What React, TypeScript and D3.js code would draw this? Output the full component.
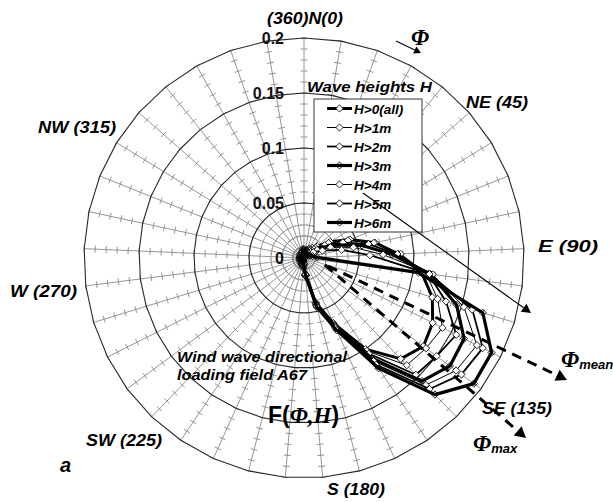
import React from 'react';
import * as d3 from 'd3';

// directions 0..360 every 10 deg (360 repeats N, so 37 spokes)
const directions = [0, 10, 20, 30, 40, 50, 60, 70, 80, 90, 100, 110, 120, 130, 140, 150, 160, 170, 180,
  190, 200, 210, 220, 230, 240, 250, 260, 270, 280, 290, 300, 310, 320, 330, 340, 350, 360];

const seriesNames = ['H>0(all)', 'H>1m', 'H>2m', 'H>3m', 'H>4m', 'H>5m', 'H>6m'];

const hAll = [0.006, 0.006, 0.008, 0.010, 0.012, 0.016, 0.028, 0.045, 0.066, 0.086, 0.108, 0.122, 0.131, 0.135, 0.127, 0.100, 0.065, 0.042, 0.016,
  0.009, 0.007, 0.006, 0.005, 0.005, 0.004, 0.004, 0.004, 0.004, 0.004, 0.004, 0.004, 0.004, 0.005, 0.005, 0.005, 0.006, 0.006];
const h1 = [0.005, 0.005, 0.006, 0.008, 0.010, 0.014, 0.026, 0.043, 0.065, 0.088, 0.112, 0.127, 0.141, 0.138, 0.135, 0.102, 0.066, 0.042, 0.016,
  0.008, 0.006, 0.005, 0.004, 0.004, 0.004, 0.003, 0.003, 0.003, 0.003, 0.003, 0.003, 0.003, 0.004, 0.004, 0.004, 0.005, 0.005];
const h2 = [0.005, 0.004, 0.005, 0.007, 0.009, 0.012, 0.022, 0.038, 0.060, 0.085, 0.114, 0.135, 0.155, 0.150, 0.147, 0.105, 0.067, 0.043, 0.016,
  0.007, 0.005, 0.004, 0.004, 0.003, 0.003, 0.003, 0.003, 0.003, 0.003, 0.003, 0.003, 0.003, 0.003, 0.004, 0.004, 0.004, 0.005];
const h3 = [0.006, 0.004, 0.005, 0.006, 0.008, 0.010, 0.018, 0.032, 0.054, 0.080, 0.116, 0.145, 0.163, 0.165, 0.155, 0.110, 0.068, 0.044, 0.016,
  0.006, 0.005, 0.004, 0.003, 0.003, 0.003, 0.002, 0.002, 0.002, 0.002, 0.002, 0.002, 0.003, 0.003, 0.003, 0.004, 0.004, 0.006];
const h4 = [0.005, 0.004, 0.004, 0.005, 0.006, 0.008, 0.014, 0.026, 0.046, 0.072, 0.118, 0.152, 0.176, 0.172, 0.160, 0.113, 0.069, 0.045, 0.015,
  0.006, 0.004, 0.003, 0.003, 0.002, 0.002, 0.002, 0.002, 0.002, 0.002, 0.002, 0.002, 0.002, 0.003, 0.003, 0.003, 0.004, 0.005];
const h5 = [0.006, 0.004, 0.004, 0.004, 0.005, 0.006, 0.010, 0.018, 0.035, 0.060, 0.115, 0.160, 0.182, 0.178, 0.165, 0.117, 0.070, 0.045, 0.015,
  0.005, 0.004, 0.003, 0.002, 0.002, 0.002, 0.002, 0.002, 0.002, 0.002, 0.002, 0.002, 0.002, 0.002, 0.003, 0.003, 0.004, 0.006];
const h6 = [0.008, 0.005, 0.004, 0.004, 0.004, 0.004, 0.005, 0.006, 0.008, 0.012, 0.105, 0.170, 0.191, 0.192, 0.172, 0.121, 0.072, 0.046, 0.015,
  0.005, 0.003, 0.002, 0.002, 0.002, 0.002, 0.002, 0.002, 0.002, 0.002, 0.002, 0.002, 0.002, 0.002, 0.002, 0.003, 0.004, 0.008];

const seriesValues = [hAll, h1, h2, h3, h4, h5, h6];
const seriesWidths = [3, 1, 1.8, 3.2, 1, 1.8, 3.2];
const markerFill = ['#fff', '#fff', '#fff', 'none', '#fff', '#fff', 'none'];

const ringValues = [0.05, 0.1, 0.15, 0.2];
const axisTicks = [0, 0.05, 0.1, 0.15, 0.2];
const axisLabels = ['0', '0.05', '0.1', '0.15', '0.2'];

const cx = 304;
const cy = 258;
const rScale = d3.scaleLinear().domain([0, 0.2]).range([0, 220]);
const aScale = d3.scaleLinear().domain([0, directions.length]).range([0, 2 * Math.PI]);

const polar = (i: number, v: number): [number, number] => {
  const a = aScale(i);
  return [rScale(v) * Math.sin(a), -rScale(v) * Math.cos(a)];
};

const ringPath = (v: number) =>
  d3.lineRadial<number>().angle((_, i) => aScale(i)).radius(() => rScale(v)).curve(d3.curveLinearClosed)(directions) || '';

const seriesPath = (vals: number[]) =>
  d3.lineRadial<number>().angle((_, i) => aScale(i)).radius((d) => rScale(d)).curve(d3.curveLinearClosed)(vals) || '';

const diamond = d3.symbol(d3.symbolSquare, 26)() || '';

// spokes and cross ticks every 0.01
const gridPath = () => {
  const p = d3.path();
  const minor = d3.range(1, 21).map((j) => j * 0.01);
  directions.forEach((_, i) => {
    const a = aScale(i);
    const [ex, ey] = polar(i, 0.2);
    p.moveTo(0, 0);
    p.lineTo(ex, ey);
    minor.forEach((v) => {
      const [x, y] = polar(i, v);
      const px = Math.cos(a) * 3.5;
      const py = Math.sin(a) * 3.5;
      p.moveTo(x - px, y - py);
      p.lineTo(x + px, y + py);
    });
  });
  return p.toString();
};

const lab = { fontFamily: 'Liberation Sans, Arial, sans-serif', fontWeight: 700, fontStyle: 'italic' as const };
const serif = { fontFamily: 'Liberation Serif, Times New Roman, serif', fontStyle: 'italic' as const, fontWeight: 700 };

const dirLabels = [
  { t: '(360)N(0)', x: 267, y: 24, w: 76 },
  { t: 'NE (45)', x: 466, y: 108, w: 62 },
  { t: 'NW (315)', x: 38, y: 133, w: 78 },
  { t: 'E (90)', x: 538, y: 252, w: 60 },
  { t: 'W (270)', x: 10, y: 297, w: 67 },
  { t: 'SW (225)', x: 86, y: 446, w: 76 },
  { t: 'S (180)', x: 327, y: 495, w: 58 },
  { t: 'SE (135)', x: 482, y: 414, w: 70 },
];

const Arrow = ({ x1, y1, x2, y2, w, dash, head }: any) => {
  const ang = Math.atan2(y2 - y1, x2 - x1);
  const hl = head;
  const hw = head * 0.55;
  const bx = x2 - Math.cos(ang) * hl;
  const by = y2 - Math.sin(ang) * hl;
  const pts = [
    [x2, y2],
    [bx + Math.sin(ang) * hw, by - Math.cos(ang) * hw],
    [bx - Math.sin(ang) * hw, by + Math.cos(ang) * hw],
  ];
  return (
    <g>
      <line x1={x1} y1={y1} x2={bx} y2={by} stroke="#000" strokeWidth={w} strokeDasharray={dash} />
      <polygon points={pts.map((p) => p.join(',')).join(' ')} fill="#000" />
    </g>
  );
};

export default function App() {
  return (
    <svg width={613} height={502} style={{ position: 'absolute', left: 0, top: 0, background: '#fff' }}>
      <rect width={613} height={502} fill="#fff" />
      <g transform={`translate(${cx},${cy})`}>
        <path d={gridPath()} fill="none" stroke="#8a8a8a" strokeWidth={0.9} />
        {ringValues.map((v) => (
          <path key={v} d={ringPath(v)} fill="none" stroke="#2a2a2a" strokeWidth={1.1} />
        ))}
        {seriesValues.map((vals, s) => (
          <g key={s}>
            <path d={seriesPath(vals)} fill="none" stroke="#000" strokeWidth={seriesWidths[s]} strokeLinejoin="round" />
            {vals.map((v, i) => {
              const [x, y] = polar(i, v);
              return (
                <path key={i} d={diamond} transform={`translate(${x},${y}) rotate(45)`}
                  fill={markerFill[s]} stroke="#000" strokeWidth={0.8} />
              );
            })}
          </g>
        ))}
      </g>

      {axisTicks.map((v, i) => (
        <text key={v} x={284} y={cy - rScale(v) + 6} textAnchor="end" fontSize={16}
          fontFamily="Liberation Sans, Arial, sans-serif" fontWeight={700} fill="#111">{axisLabels[i]}</text>
      ))}

      {dirLabels.map((d) => (
        <text key={d.t} x={d.x} y={d.y} fontSize={16} style={lab} textLength={d.w} lengthAdjust="spacingAndGlyphs">{d.t}</text>
      ))}

      {/* legend */}
      <text x={307} y={92} fontSize={15} style={lab} textLength={125} lengthAdjust="spacingAndGlyphs">Wave heights  H</text>
      <rect x={314} y={99} width={108} height={133} fill="#fff" stroke="#333" strokeWidth={1} />
      {seriesNames.map((nm, s) => {
        const y = 108.5 + s * 19;
        return (
          <g key={nm}>
            <line x1={327} x2={352} y1={y} y2={y} stroke="#000" strokeWidth={seriesWidths[s]} />
            <path d={diamond} transform={`translate(339.5,${y}) rotate(45)`} fill={markerFill[s]} stroke="#000" strokeWidth={0.8} />
            <text x={354} y={y + 5} fontSize={13.5} style={lab}>{nm}</text>
          </g>
        );
      })}

      {/* annotations */}
      <Arrow x1={363} y1={193} x2={531} y2={313} w={1.1} head={9} />
      <Arrow x1={396} y1={41} x2={421} y2={53} w={1.1} head={7} />
      <text x={411} y={45} fontSize={23} style={serif}>Φ</text>
      <Arrow x1={328} y1={266} x2={567} y2={380} w={3} dash="10 7" head={11} />
      <Arrow x1={325} y1={265} x2={526} y2={438} w={3} dash="10 7" head={11} />
      <text x={561} y={367} fontSize={23} style={serif}>Φ<tspan fontSize={13} dy={2} style={lab} fontWeight={400}>mean</tspan></text>
      <text x={473} y={451} fontSize={23} style={serif}>Φ<tspan fontSize={13} dy={2} style={lab} fontWeight={400}>max</tspan></text>

      <text x={177} y={362} fontSize={14} style={lab} textLength={170} lengthAdjust="spacingAndGlyphs">Wind wave directional</text>
      <text x={177} y={380} fontSize={14} style={lab} textLength={130} lengthAdjust="spacingAndGlyphs">loading field A67</text>
      <text x={268} y={423} fontSize={23}>
        <tspan fontFamily="Liberation Sans, Arial, sans-serif" fontWeight={700}>F(</tspan>
        <tspan style={serif}>Φ,H</tspan>
        <tspan fontFamily="Liberation Sans, Arial, sans-serif" fontWeight={700}>)</tspan>
      </text>
      <text x={60} y={472} fontSize={20} style={lab}>a</text>
    </svg>
  );
}
